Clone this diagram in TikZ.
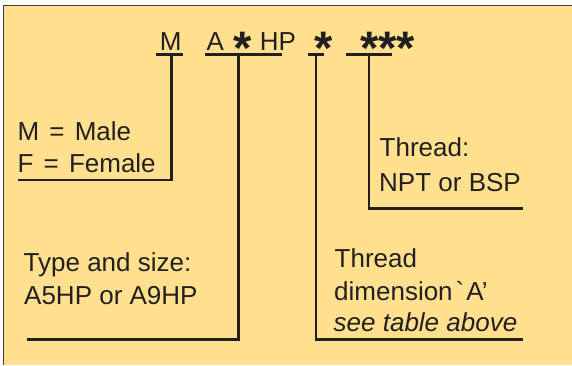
\documentclass[tikz,border=0pt]{standalone}
\usepackage{fontspec}
\setmainfont{Liberation Sans}
\newfontfamily\plainfont{Liberation Sans}
\newfontfamily\astfont{Liberation Sans Bold}
\definecolor{bgyellow}{RGB}{254,224,142}
\definecolor{ink}{RGB}{35,31,32}
\definecolor{frame}{RGB}{60,60,60}
\begin{document}
\begin{tikzpicture}[x=1pt,y=-1pt,
  lbl/.style={anchor=base west,inner sep=0pt,text=ink,font=\fontsize{26}{30}\selectfont},
  astx/.style={anchor=base,inner sep=0pt,text=ink,font=\astfont\fontsize{47}{47}\selectfont},
  conn/.style={draw=ink,line width=2.5pt},
  ]
\useasboundingbox (0,0) rectangle (572,365);
\fill[white] (0,0) rectangle (572,365);
\fill[bgyellow] (3.5,5.5) rectangle (572,365);
\draw[frame,line width=1.5pt] (3.5,365) -- (3.5,5.5) -- (572,5.5);
% top code
\node[lbl] (cM) at (159.7,50) {M};
\node[lbl] (cA) at (206.5,50) {A};
\node[astx] (s1) at (242.5,50) {\raisebox{-14.5pt}{*}};
\node[lbl] (cHP) at (259.6,50) {HP};
\node[astx] (s2) at (324,50) {\raisebox{-14.5pt}{*}};
\node[astx] (s3) at (387.5,50) {\raisebox{-14.5pt}{***}};
% underlines
\coordinate (uM1) at (156,54.5); \coordinate (uM2) at (183,54.5);
\coordinate (uA1) at (205,54.5); \coordinate (uA2) at (282,54.5);
\coordinate (uS1) at (308,54.5); \coordinate (uS2) at (324,54.5);
\coordinate (uT1) at (345.5,54.5); \coordinate (uT2) at (391.5,54.5);
\draw[conn] (uM1) -- (uM2);
\draw[conn] (uA1) -- (uA2);
\draw[conn] (uS1) -- (uS2);
\draw[conn] (uT1) -- (uT2);
% connector ends
\coordinate (tM) at (171.5,54.5); \coordinate (eM) at (18.3,180);
\coordinate (tA) at (238.7,54.5); \coordinate (eA) at (26.7,339.3);
\coordinate (tS) at (316.2,54.5); \coordinate (eS) at (523.3,339.3);
\coordinate (tT) at (369,54.5); \coordinate (eT) at (523.3,208.3);
\draw[conn] (tM) |- (eM);
\draw[conn] (tA) |- (eA);
\draw[conn] (tS) |- (eS);
\draw[conn] (tT) |- (eT);
% labels
\node[lbl] (m1) at (17.3,140) {M\kern3pt\ =\kern3pt\ Male};
\node[lbl] (m2) at (17.3,172.7) {F\kern3pt\ =\kern3pt\ Female};
\node[lbl] (t1) at (379.5,156.7) {Thread:};
\node[lbl] (t2) at (379,191) {NPT or BSP};
\node[lbl] (a1) at (23.5,271.7) {Type and size:};
\node[lbl] (a2) at (24,304) {A5HP or A9HP};
\node[lbl] (d1) at (334.5,267.3) {Thread};
\node[lbl] (d2) at (334,300) {dimension\kern3pt{\plainfont\symbol{96}}\kern2ptA’};
\node[lbl,font=\fontsize{26}{30}\selectfont\itshape] (d3) at (333.5,331) {see table above};
\end{tikzpicture}
\end{document}
